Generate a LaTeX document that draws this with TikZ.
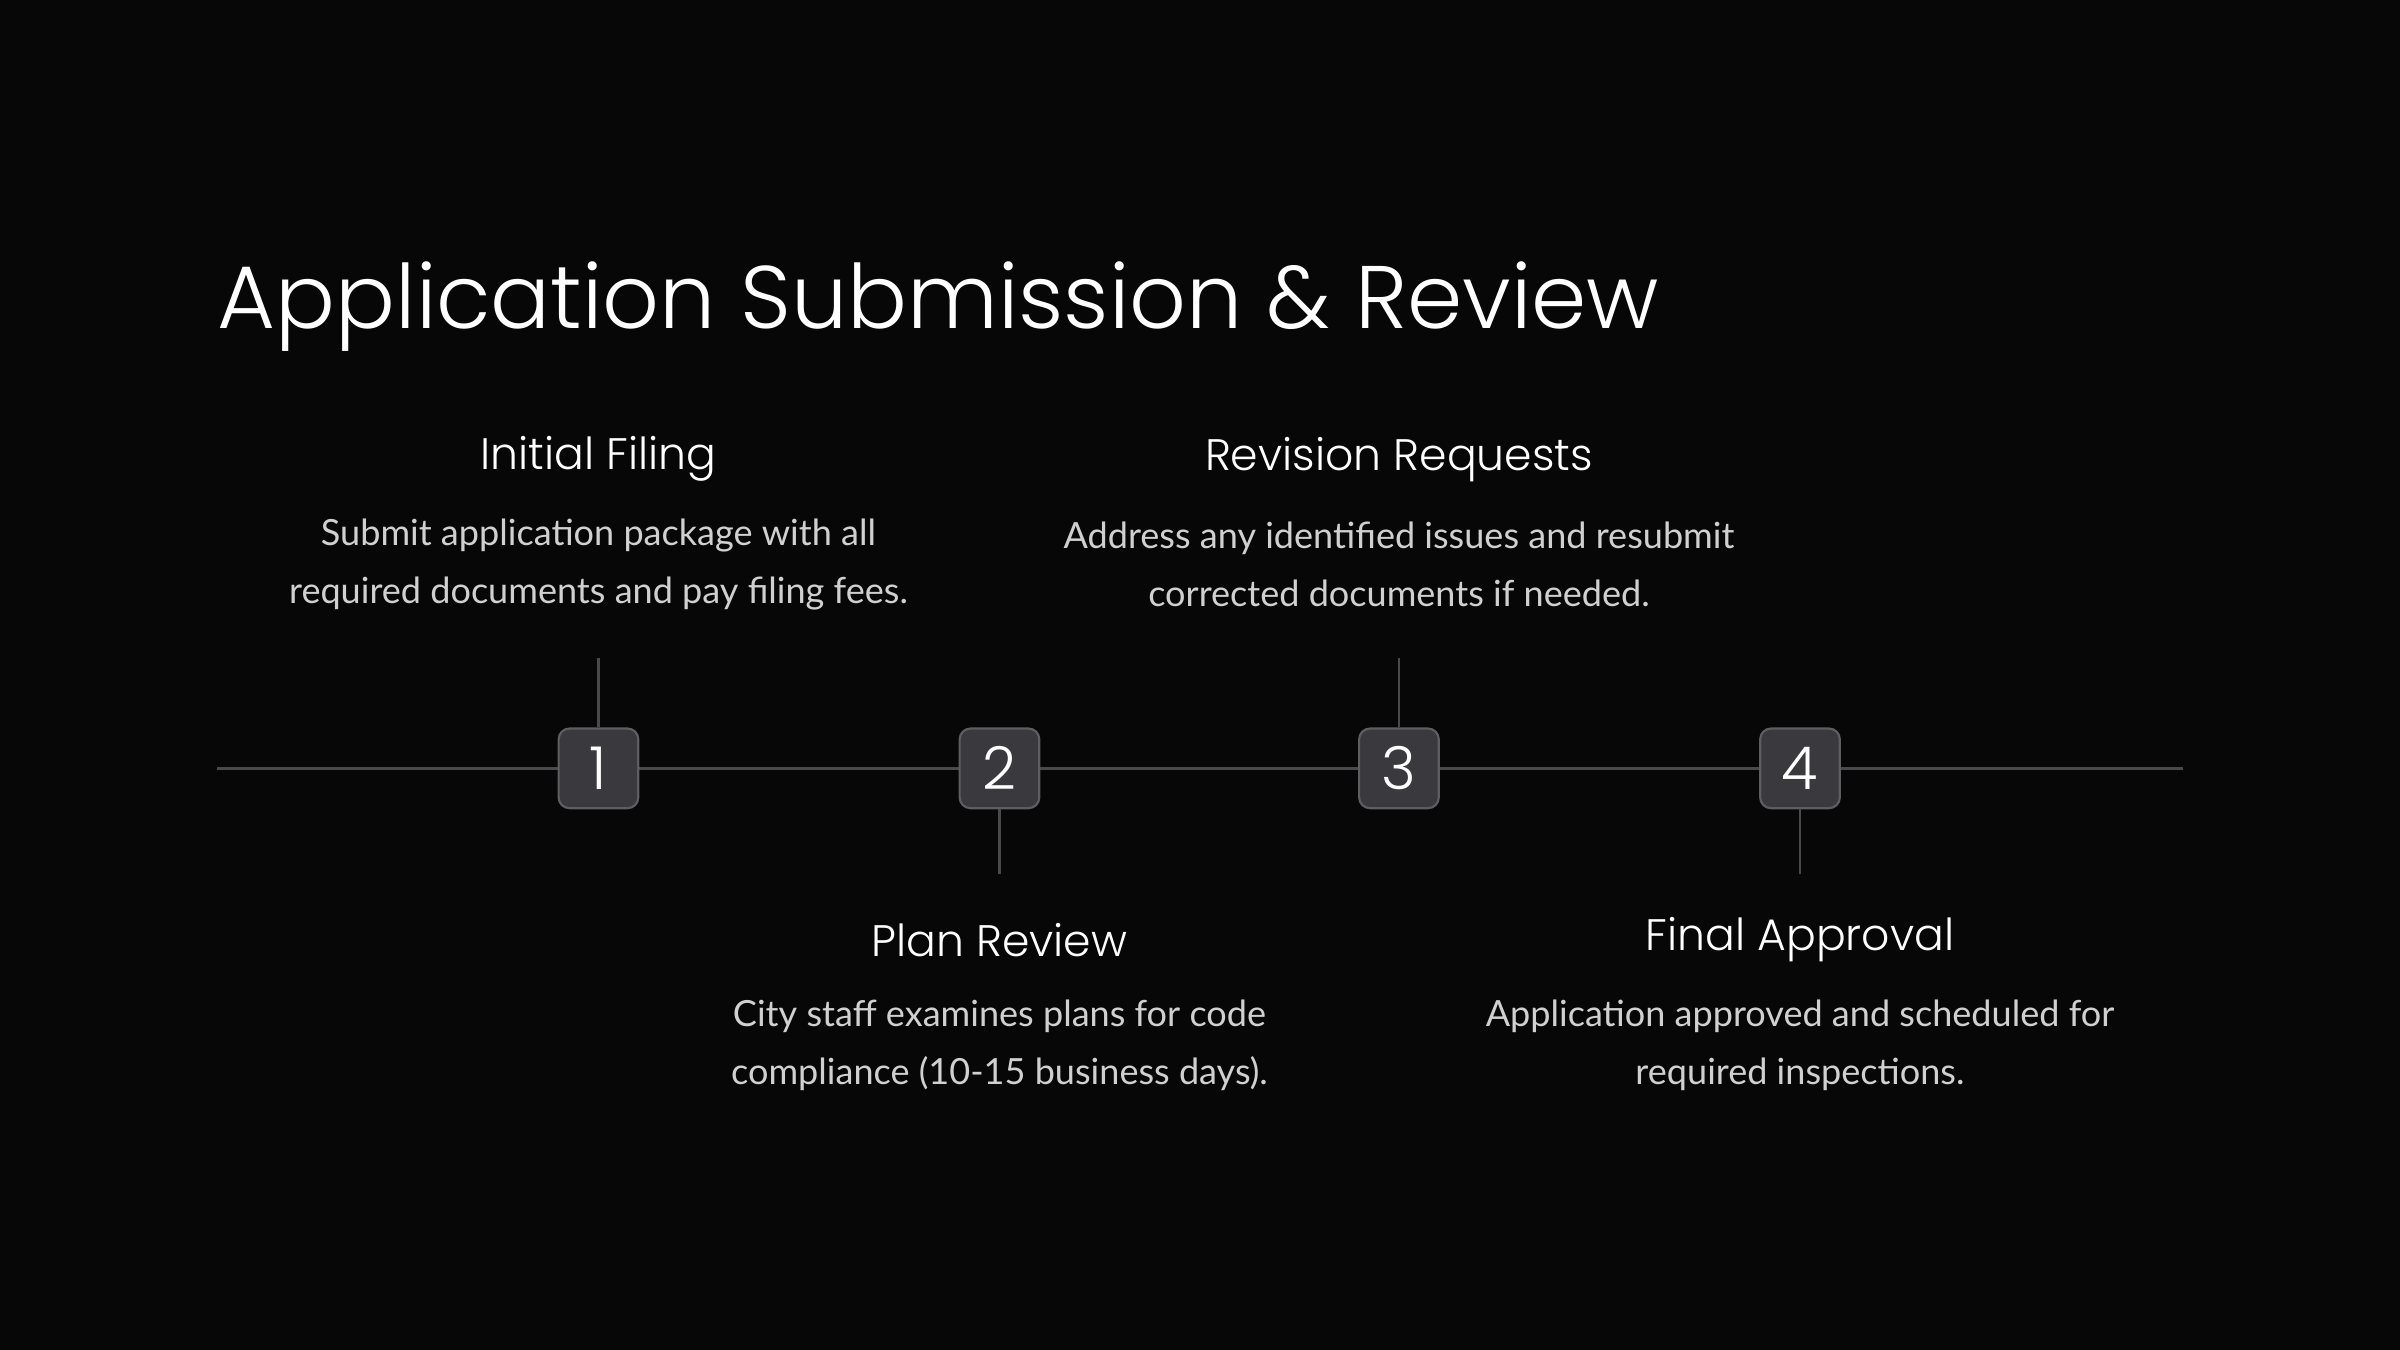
\documentclass[tikz,border=0pt]{standalone}
\usepackage{fontspec}
\setmainfont{Lato}
\newfontfamily\titlefont{Poppins}[UprightFont=* Light]
\usetikzlibrary{positioning}
\definecolor{bgcol}{HTML}{070707}
\definecolor{linecol}{HTML}{4A4A4C}
\definecolor{boxcol}{HTML}{3A3A3E}
\definecolor{boxline}{HTML}{5E5E62}
\definecolor{bodycol}{HTML}{D0D0D0}
\tikzset{
  stepbox/.style={draw=boxline, fill=boxcol, rounded corners=2pt, minimum width=0.52cm, minimum height=0.52cm, inner sep=0pt, text=white, font=\titlefont\fontsize{11}{11}\selectfont},
  stephead/.style={text=white, font=\titlefont\fontsize{8.2}{8.2}\selectfont},
  stepbody/.style={text=bodycol, align=center, font=\fontsize{6.7}{10.8}\selectfont},
  tick/.style={draw=linecol, line width=0.5pt}
}
\begin{document}
\begin{tikzpicture}[x=0.01cm,y=-0.01cm]
	\fill [bgcol] (0,0) rectangle (1568,882);
	\useasboundingbox (0,0) rectangle (1568,882);
	\node [anchor=west, text=white, font=\titlefont\fontsize{16.5}{16.5}\selectfont] (title) at (130,200) {Application Submission \& Review};
	\draw [tick] (142,502) -- (1426,502);
	% step boxes
	\node [stepbox] (b1) at (391,502) {1};
	\node [stepbox] (b2) at (653,502) {2};
	\node [stepbox] (b3) at (914,502) {3};
	\node [stepbox] (b4) at (1176,502) {4};
	\coordinate (c1) at (391,430);
	\coordinate (c2) at (653,571);
	\coordinate (c3) at (914,430);
	\coordinate (c4) at (1176,571);
	\draw [tick] (c1) -- (b1);
	\draw [tick] (c2) -- (b2);
	\draw [tick] (c3) -- (b3);
	\draw [tick] (c4) -- (b4);
	% texts above
	\node [stephead] (h1) at (391,300) {Initial Filing};
	\node [stepbody] (t1) at (391,369) {Submit application package with all\\required documents and pay filing fees.};
	\node [stephead] (h3) at (914,300) {Revision Requests};
	\node [stepbody] (t3) at (914,369) {Address any identified issues and resubmit\\corrected documents if needed.};
	% texts below
	\node [stephead] (h2) at (653,614) {Plan Review};
	\node [stepbody] (t2) at (653,683) {City staff examines plans for code\\compliance (10-15 business days).};
	\node [stephead] (h4) at (1176,614) {Final Approval};
	\node [stepbody] (t4) at (1176,683) {Application approved and scheduled for\\required inspections.};
\end{tikzpicture}
\end{document}
